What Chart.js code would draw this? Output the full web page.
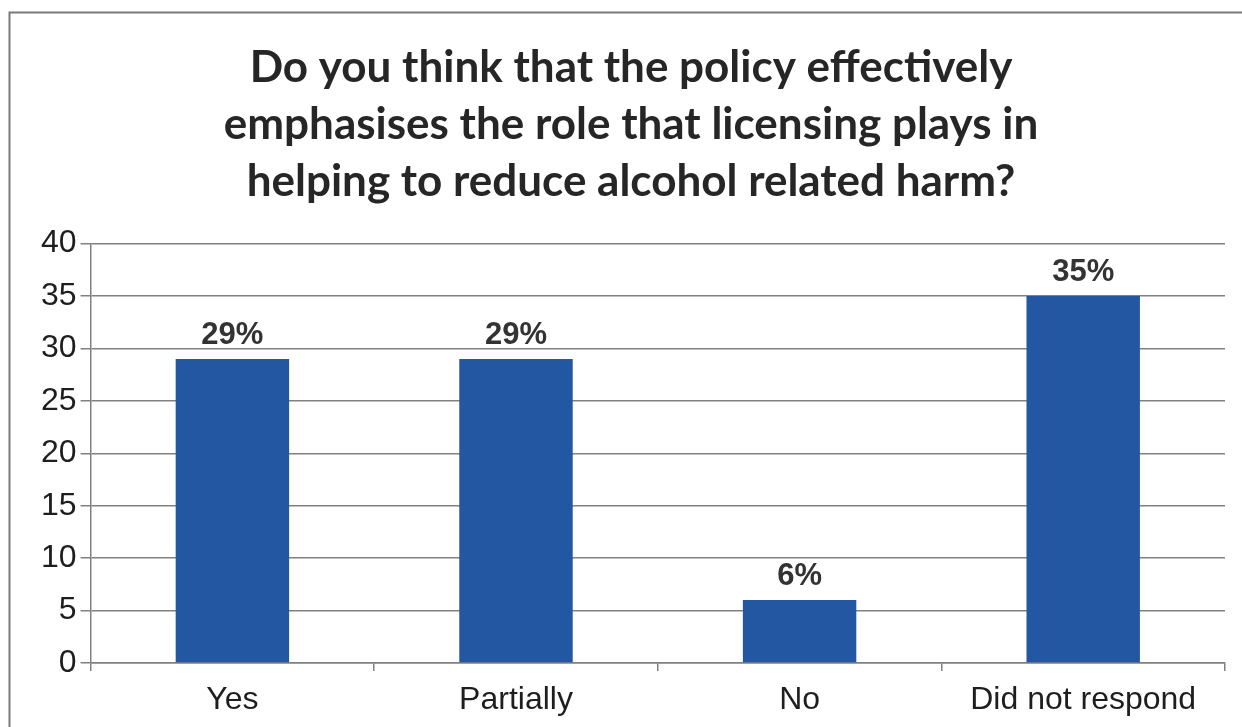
<!DOCTYPE html>
<html>
<head>
<meta charset="utf-8">
<script src="https://cdn.jsdelivr.net/npm/chart.js@4/dist/chart.umd.min.js"></script>
<style>
  html, body { margin: 0; padding: 0; background: #fff; }
  #wrap { width: 1242px; height: 727px; }
</style>
</head>
<body>
<div id="wrap"><canvas id="chart" width="1242" height="727"></canvas></div>
<script>
const categories = ['Yes', 'Partially', 'No', 'Did not respond'];
const percentages = [29, 29, 6, 35];
const yTicks = [0, 5, 10, 15, 20, 25, 30, 35, 40];
const titleLines = [
    'Do you think that the policy effectively',
    'emphasises the role that licensing plays in',
    'helping to reduce alcohol related harm?'
];

// frame around the whole chart (left and top edges show)
const framePlugin = {
    id: 'frame',
    beforeDraw(chart) {
        const ctx = chart.ctx;
        ctx.save();
        ctx.fillStyle = '#ffffff';
        ctx.fillRect(0, 0, chart.width, chart.height);
        ctx.strokeStyle = '#7a7a7a';
        ctx.lineWidth = 2;
        ctx.beginPath();
        ctx.moveTo(9.5, chart.height + 5);
        ctx.lineTo(9.5, 12.5);
        ctx.lineTo(chart.width + 5, 12.5);
        ctx.stroke();
        ctx.restore();
    }
};

// percentage labels above each bar
const valueLabels = {
    id: 'valueLabels',
    afterDatasetsDraw(chart) {
        const ctx = chart.ctx;
        const meta = chart.getDatasetMeta(0);
        ctx.save();
        ctx.font = 'bold 31px "Liberation Sans", Arial, sans-serif';
        ctx.fillStyle = '#333333';
        ctx.textAlign = 'center';
        ctx.textBaseline = 'alphabetic';
        meta.data.forEach((bar, i) => {
            ctx.fillText(percentages[i] + '%', bar.x, bar.y - 15);
        });
        ctx.restore();
    }
};

const ctx = document.getElementById('chart').getContext('2d');
new Chart(ctx, {
    type: 'bar',
    data: {
        labels: categories,
        datasets: [{
            data: percentages,
            backgroundColor: '#2457a2',
            borderWidth: 0,
            barPercentage: 0.4,
            categoryPercentage: 1.0
        }]
    },
    options: {
        responsive: false,
        animation: false,
        layout: { padding: { left: 37, right: 17, top: 12, bottom: -2 } },
        plugins: {
            legend: { display: false },
            tooltip: { enabled: false },
            title: {
                display: true,
                text: titleLines,
                color: '#262626',
                font: { family: 'Lato', weight: 'bold', size: 44, lineHeight: 1.3 },
                padding: { top: 27, bottom: 33 }
            }
        },
        scales: {
            x: {
                grid: {
                    display: true,
                    drawOnChartArea: false,
                    drawTicks: true,
                    tickLength: 8,
                    color: '#808080',
                    lineWidth: 1.5,
                    offset: true
                },
                border: { display: true, color: '#808080', width: 1.5 },
                ticks: {
                    color: '#1e1e1e',
                    font: { family: '"Liberation Sans", Arial, sans-serif', size: 32, lineHeight: 1 },
                    padding: 13
                }
            },
            y: {
                min: 0,
                max: 40,
                afterBuildTicks(scale) {
                    scale.ticks = yTicks.map(v => ({ value: v }));
                },
                grid: {
                    color: '#808080',
                    lineWidth: 1.5,
                    drawTicks: true,
                    tickLength: 10
                },
                border: { display: true, color: '#808080', width: 1.5 },
                ticks: {
                    color: '#1e1e1e',
                    font: { family: '"Liberation Sans", Arial, sans-serif', size: 32, lineHeight: 1 },
                    padding: 4
                }
            }
        }
    },
    plugins: [framePlugin, valueLabels]
});
</script>
</body>
</html>
